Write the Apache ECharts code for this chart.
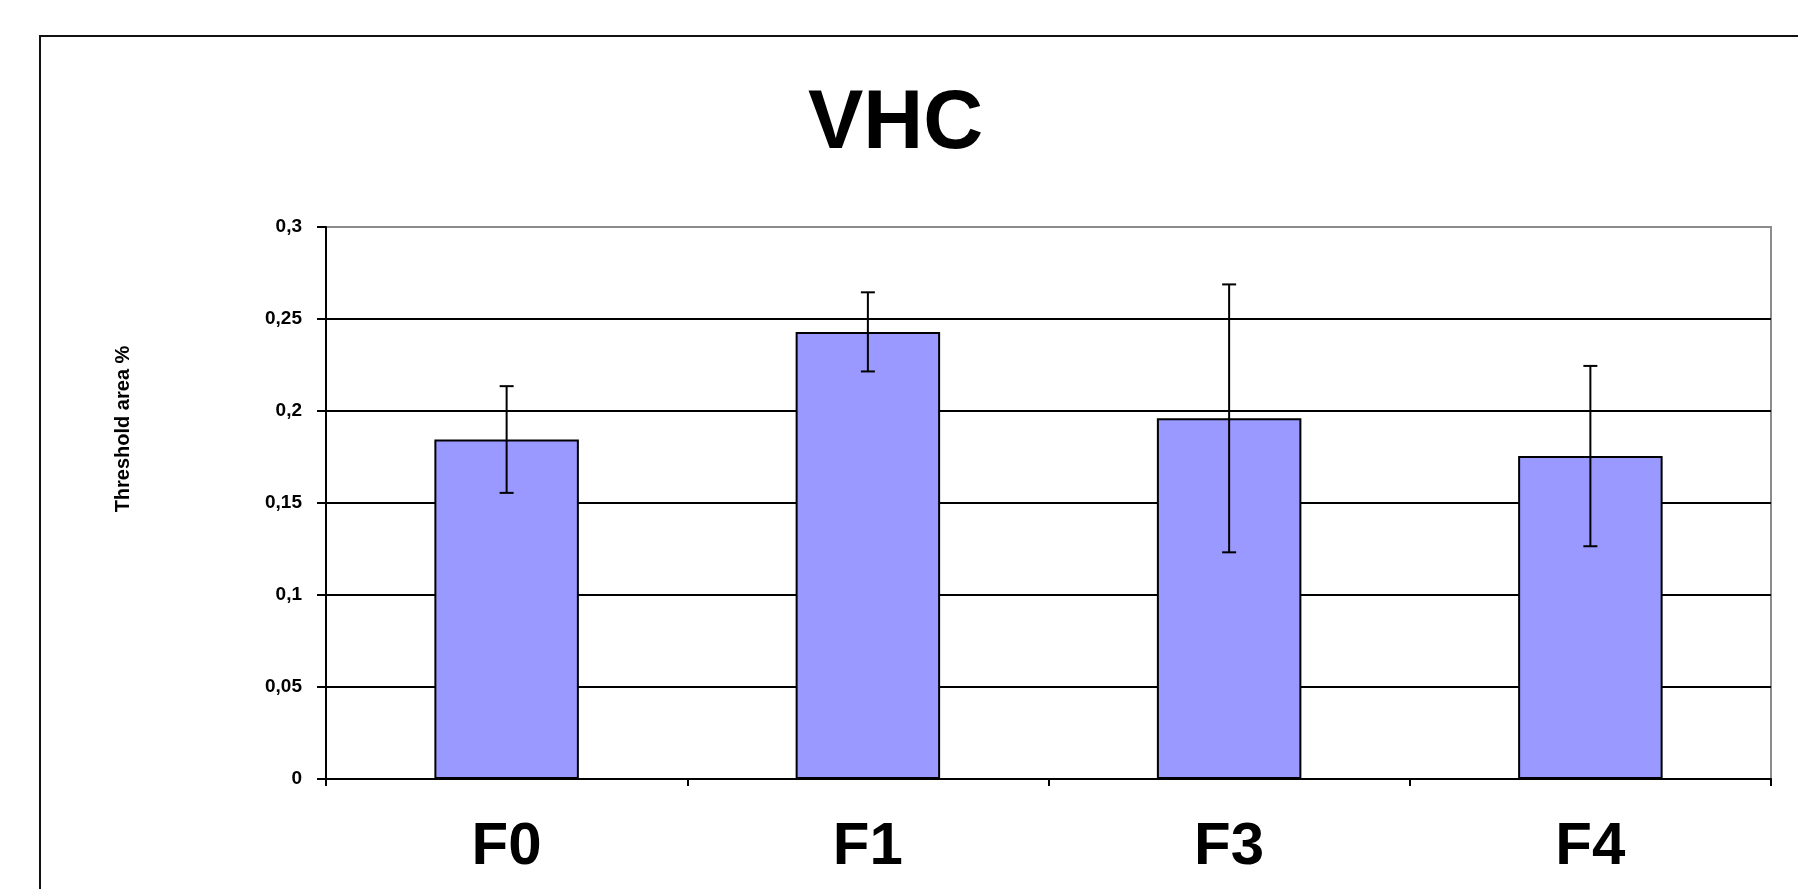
<!DOCTYPE html>
<html>
<head>
<meta charset="utf-8">
<script src="https://cdn.jsdelivr.net/npm/echarts@6/dist/echarts.min.js"></script>
<style>
html,body{margin:0;padding:0;background:#fff;}
#chart{width:1798px;height:889px;}
</style>
</head>
<body>
<div id="chart"></div>
<script>
var categories = ['F0', 'F1', 'F3', 'F4'];
var values = [0.1845, 0.243, 0.196, 0.1755];
var errors = [0.029, 0.0215, 0.0728, 0.049];
var yTickLabels = ['0', '0,05', '0,1', '0,15', '0,2', '0,25', '0,3'];
var titleText = 'VHC';
var yAxisName = 'Threshold area %';

var FONT = '"Liberation Sans", Arial, sans-serif';
var chart = echarts.init(document.getElementById('chart'), null, {renderer: 'canvas'});

var errData = categories.map(function (c, i) {
  return [i, values[i] - errors[i], values[i] + errors[i]];
});

var option = {
  backgroundColor: '#ffffff',
  animation: false,
  title: {
    text: titleText,
    left: 808,
    top: 84,
    padding: 0,
    textStyle: {fontFamily: FONT, fontWeight: 'bold', fontSize: 83, color: '#000'}
  },
  graphic: [
    {
      type: 'rect',
      shape: {x: 40, y: 36, width: 1900, height: 1000},
      style: {fill: 'none', stroke: '#111', lineWidth: 2},
      silent: true,
      z: 0
    },
    {
      type: 'text',
      x: 123,
      y: 429,
      rotation: Math.PI / 2,
      style: {
        text: yAxisName,
        font: 'bold 20px ' + FONT,
        fill: '#000',
        textAlign: 'center',
        textVerticalAlign: 'middle'
      }
    }
  ],
  grid: {
    left: 326,
    top: 227,
    right: 27,
    bottom: 110,
    show: true,
    borderColor: '#8c8c8c',
    borderWidth: 2,
    containLabel: false
  },
  xAxis: {
    type: 'category',
    data: categories,
    axisLine: {show: true, lineStyle: {color: '#000', width: 2}},
    axisTick: {show: true, alignWithLabel: false, length: 7, lineStyle: {color: '#000', width: 2}},
    axisLabel: {
      margin: 38,
      fontFamily: FONT,
      fontWeight: 'bold',
      fontSize: 60,
      color: '#000'
    },
    splitLine: {show: false}
  },
  yAxis: {
    type: 'value',
    min: 0,
    max: 0.3,
    interval: 0.05,
    axisLine: {show: true, lineStyle: {color: '#000', width: 2}},
    axisTick: {show: true, inside: false, length: 9, lineStyle: {color: '#000', width: 2}},
    axisLabel: {
      margin: 24,
      fontFamily: FONT,
      fontWeight: 'bold',
      fontSize: 19,
      color: '#000',
      formatter: function (v) {
        var idx = Math.round(v / 0.05);
        return yTickLabels[idx];
      }
    },
    splitLine: {
      show: true,
      lineStyle: {
        color: ['#000', '#000', '#000', '#000', '#000', '#000', '#8c8c8c'],
        width: 2
      }
    }
  },
  series: [
    {
      type: 'bar',
      data: values,
      barWidth: '40%',
      itemStyle: {color: '#9999ff', borderColor: '#000', borderWidth: 2},
      z: 3
    },
    {
      type: 'custom',
      data: errData,
      z: 5,
      renderItem: function (params, api) {
        var x = api.value(0);
        var lo = api.coord([x, api.value(1)]);
        var hi = api.coord([x, api.value(2)]);
        var hw = 7;
        var st = {stroke: '#000', lineWidth: 2};
        return {
          type: 'group',
          children: [
            {type: 'line', shape: {x1: hi[0], y1: hi[1], x2: lo[0], y2: lo[1]}, style: st},
            {type: 'line', shape: {x1: hi[0] - hw, y1: hi[1], x2: hi[0] + hw, y2: hi[1]}, style: st},
            {type: 'line', shape: {x1: lo[0] - hw, y1: lo[1], x2: lo[0] + hw, y2: lo[1]}, style: st}
          ]
        };
      }
    }
  ]
};
chart.setOption(option);
</script>
</body>
</html>
